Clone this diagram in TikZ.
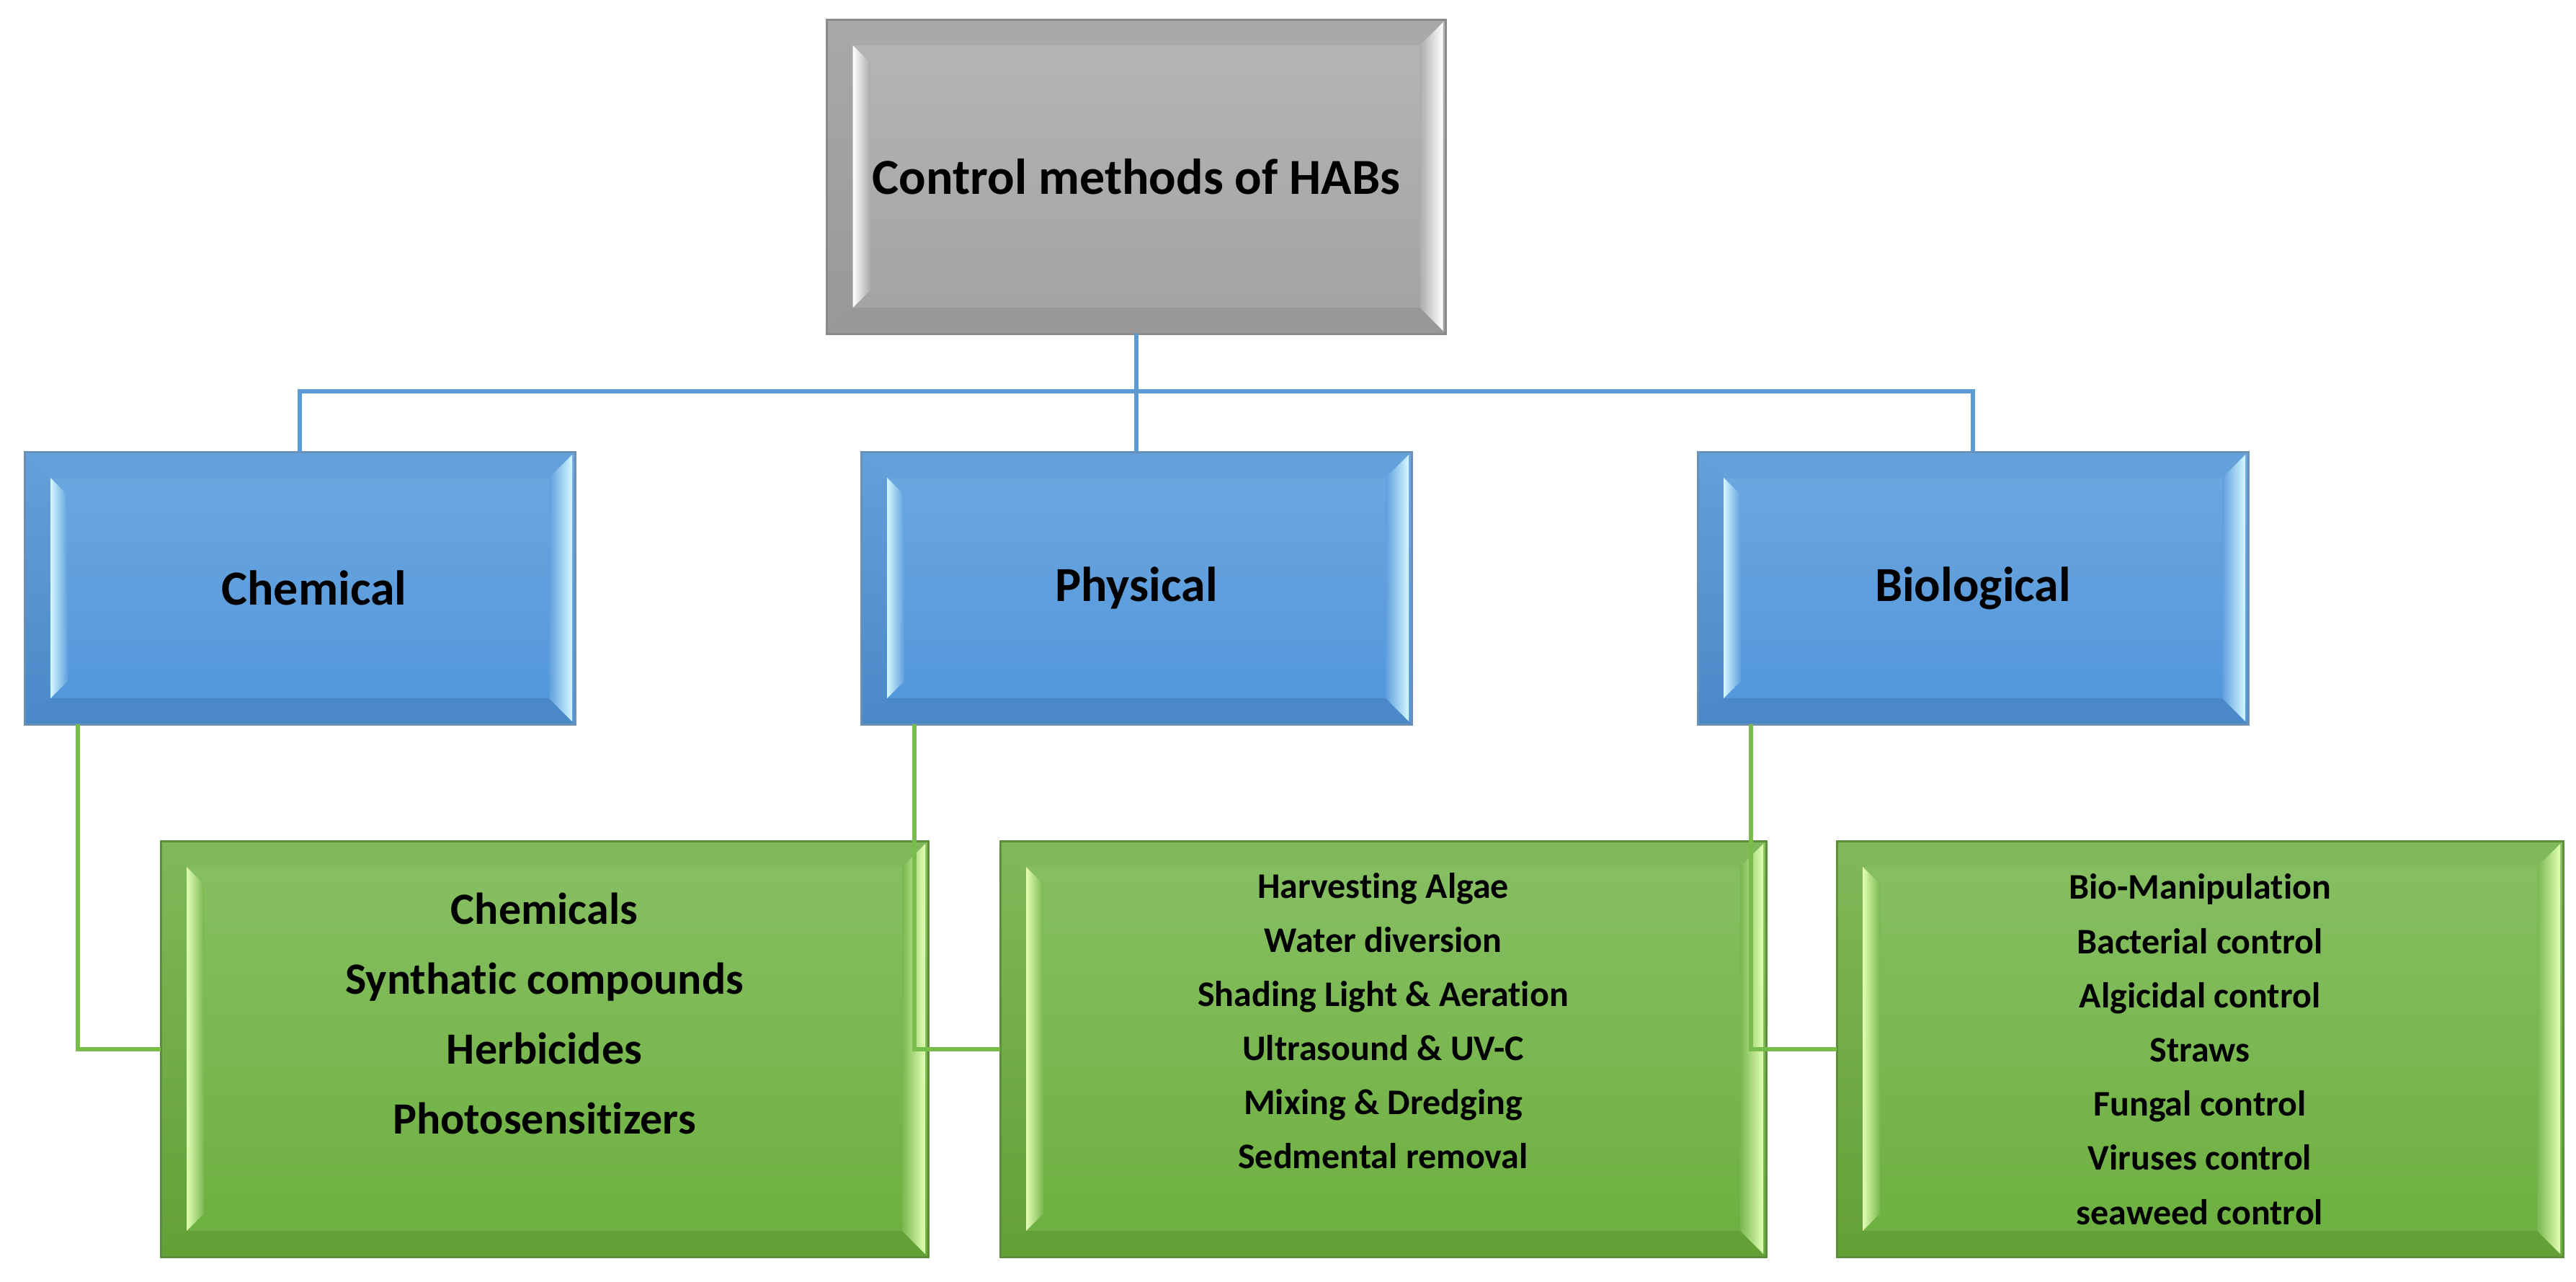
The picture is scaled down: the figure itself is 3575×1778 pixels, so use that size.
\documentclass[tikz,border=0pt]{standalone}
\usepackage{fontspec}
\setmainfont{Carlito}[Ligatures=CommonOff]
\usetikzlibrary{calc}
% gray palette
\definecolor{grtop}{HTML}{B6B6B6}
\definecolor{grbot}{HTML}{A2A2A2}
\definecolor{grmid}{HTML}{ACACAC}
\definecolor{grbandT}{HTML}{A9A9A9}
\definecolor{grbandB}{HTML}{989898}
\definecolor{grhi}{HTML}{FFFFFF}
\definecolor{gredge}{HTML}{8A8A8A}
% blue palette
\definecolor{bltop}{HTML}{6EA8E0}
\definecolor{blbot}{HTML}{5196DA}
\definecolor{blmid}{HTML}{5F9FDD}
\definecolor{blbandT}{HTML}{64A0D9}
\definecolor{blbandB}{HTML}{4A88C8}
\definecolor{blhi}{HTML}{D4F8FF}
\definecolor{bledge}{HTML}{6A90B8}
% green palette
\definecolor{gntop}{HTML}{88C064}
\definecolor{gnbot}{HTML}{6CAF3E}
\definecolor{gnmid}{HTML}{79B750}
\definecolor{gnbandT}{HTML}{80B95A}
\definecolor{gnbandB}{HTML}{63A036}
\definecolor{gnhi}{HTML}{E2FFB4}
\definecolor{gnedge}{HTML}{5C8F3C}
\definecolor{linkblue}{HTML}{5B9BD5}
\definecolor{linkgreen}{HTML}{78BC4C}
\tikzset{
  bevelbox/.style={rectangle, inner sep=0pt, outer sep=0pt, draw=#1edge,
    line width=0.75pt, top color=#1top, bottom color=#1bot, align=center,
    path picture={
      \coordinate (pa) at (path picture bounding box.north west);
      \coordinate (pb) at (path picture bounding box.north east);
      \coordinate (pc) at (path picture bounding box.south east);
      \coordinate (pd) at (path picture bounding box.south west);
      \fill[#1bandT] (pa) -- (pb) -- ([shift={(-9pt,-9pt)}]pb) -- ([shift={(9pt,-9pt)}]pa) -- cycle;
      \fill[#1bandB] (pd) -- (pc) -- ([shift={(-9pt,9pt)}]pc) -- ([shift={(9pt,9pt)}]pd) -- cycle;
      \shade[top color=#1bandT, bottom color=#1bandB] (pa) -- ([shift={(9pt,-9pt)}]pa) -- ([shift={(9pt,9pt)}]pd) -- (pd) -- cycle;
      \shade[left color=#1hi, right color=#1mid] ([shift={(9pt,-9pt)}]pa) -- ([shift={(15pt,-15pt)}]pa) -- ([shift={(15pt,15pt)}]pd) -- ([shift={(9pt,9pt)}]pd) -- cycle;
      \shade[left color=#1mid, right color=#1hi] ([shift={(-9pt,-9pt)}]pb) -- ([shift={(-1pt,-1pt)}]pb) -- ([shift={(-1pt,1pt)}]pc) -- ([shift={(-9pt,9pt)}]pc) -- cycle;
    }},
  bigtext/.style={font=\fontsize{17}{20}\selectfont\bfseries},
  listtext/.style={align=center, anchor=base, inner sep=0pt},
  blueline/.style={draw=linkblue, line width=1.5pt},
  greenline/.style={draw=linkgreen, line width=1.5pt},
}
\begin{document}
\begin{tikzpicture}[x=0.25pt, y=-0.25pt]
\useasboundingbox[fill=white] (0,0) rectangle (3575,1778);

% top box
\node[bevelbox=gr, font=\fontsize{17.5}{20}\selectfont\bfseries, minimum width=214.75pt, minimum height=109pt] (top) at (1577,245) {Control methods of HABs};

% level 2
\node[bevelbox=bl, bigtext, minimum width=191pt, minimum height=94.5pt] (chem) at (416,816) {\hspace*{10pt}Chemical};
\node[bevelbox=bl, bigtext, minimum width=191pt, minimum height=94.5pt] (phys) at (1577,816) {Physical};
\node[bevelbox=bl, bigtext, minimum width=191pt, minimum height=94.5pt] (bio) at (2738,816) {Biological};

% level 3 boxes
\node[bevelbox=gn, minimum width=266.25pt, minimum height=144.25pt] (chemg) at (755.5,1455.5) {};
\node[bevelbox=gn, minimum width=265.75pt, minimum height=144.25pt] (physg) at (1919.5,1455.5) {};
\node[bevelbox=gn, minimum width=252pt, minimum height=144.25pt] (biog) at (3053,1455.5) {};

% level 3 texts (anchor = baseline of the last line)
\node[listtext, font=\fontsize{15.5}{24.25}\selectfont\bfseries] (chemt) at (755.5,1573)
  {Chemicals\\Synthatic compounds\\Herbicides\\Photosensitizers};
\node[listtext, font=\fontsize{12.5}{18.75}\selectfont\bfseries] (physt) at (1919.5,1621)
  {Harvesting Algae\\Water diversion\\Shading Light \& Aeration\\Ultrasound \& UV-C\\Mixing \& Dredging\\Sedmental removal};
\node[listtext, font=\fontsize{12.5}{18.8}\selectfont\bfseries] (biot) at (3053,1699)
  {Bio-Manipulation\\Bacterial control\\Algicidal control\\Straws\\Fungal control\\Viruses control\\seaweed control};

% blue connectors
\coordinate (bus) at (1577,543);
\draw[blueline] (top.south) -- (phys.north);
\draw[blueline] (chem.north) |- (bus) -| (bio.north);

% green connectors
\draw[greenline] ([xshift=18.5pt]chem.south west) |- (chemg.west);
\draw[greenline] ([xshift=18.5pt]phys.south west) |- (physg.west);
\draw[greenline] ([xshift=18.5pt]bio.south west) |- (biog.west);
\end{tikzpicture}
\end{document}
